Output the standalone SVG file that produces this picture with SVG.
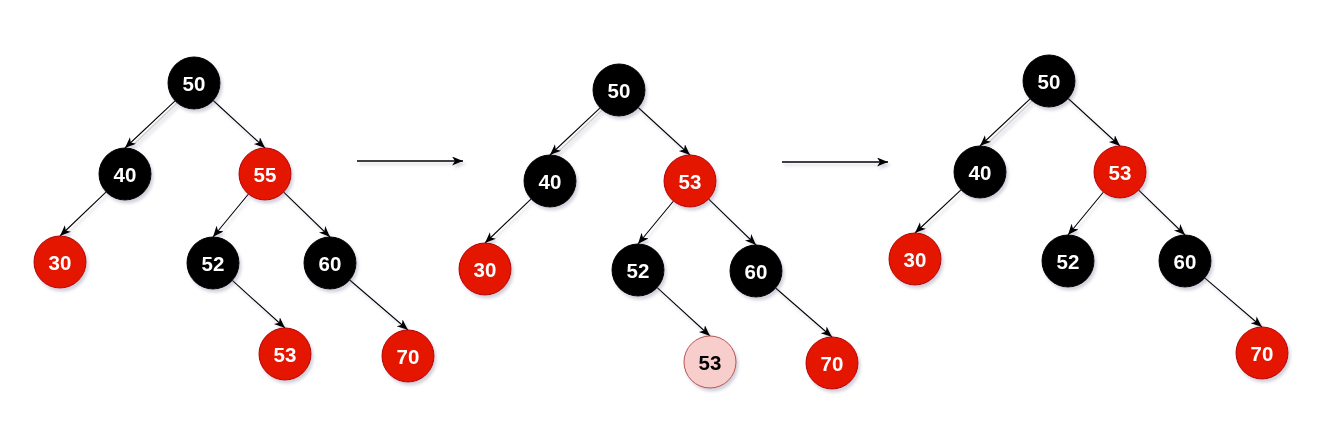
<svg xmlns="http://www.w3.org/2000/svg" width="1321" height="437" viewBox="0 0 1321 437">
<style>
.b{fill:#000000;stroke:#000000;stroke-width:1}
.r{fill:#e51400;stroke:#b20000;stroke-width:1}
.p{fill:#f8cecc;stroke:#b85450;stroke-width:1}
text{font-family:"Liberation Sans",Arial,Helvetica,sans-serif;font-weight:bold;font-size:20.5px;text-anchor:middle;fill:#ffffff}
text.k{fill:#000000}
.e{stroke:#000000;stroke-width:1.1;fill:none;marker-end:url(#ah)}
.big{stroke:#000000;stroke-width:1.4;fill:none;marker-end:url(#ah)}
.ghost{stroke:#cfcfcf;stroke-width:1.2;fill:none}
</style>
<defs>
<filter id="sh" filterUnits="userSpaceOnUse" x="0" y="0" width="1321" height="437">
<feDropShadow dx="2" dy="3" stdDeviation="1.6" flood-color="#6a6a8a" flood-opacity="0.3"/>
</filter>
<marker id="ah" markerUnits="userSpaceOnUse" markerWidth="12" markerHeight="10" refX="11" refY="4.5" orient="auto" viewBox="0 0 12 10">
<path d="M0,0 L11,4.5 L0,9 L3,4.5 Z" fill="#000000"/>
</marker>
</defs>
<rect width="1321" height="437" fill="#ffffff"/>
<g id="connectors" filter="url(#sh)">
<line class="ghost" x1="177" y1="103" x2="132" y2="146"/>
<line class="e" x1="175.1" y1="100.8" x2="125" y2="148"/>
<line class="e" x1="213.2" y1="100.5" x2="265" y2="148"/>
<line class="e" x1="106.2" y1="191.9" x2="60" y2="236"/>
<line class="e" x1="248.5" y1="194" x2="213" y2="237"/>
<line class="e" x1="283.7" y1="192.1" x2="330" y2="237"/>
<line class="e" x1="232.3" y1="280.4" x2="285" y2="328"/>
<line class="e" x1="349.7" y1="280" x2="408" y2="330"/>
<line class="big" x1="357" y1="161" x2="463" y2="161"/>
<line class="ghost" x1="602" y1="110" x2="557" y2="153"/>
<line class="e" x1="600.1" y1="107.8" x2="550" y2="155"/>
<line class="e" x1="638.2" y1="107.5" x2="690" y2="155"/>
<line class="e" x1="531.2" y1="198.9" x2="485" y2="243"/>
<line class="e" x1="673.5" y1="201" x2="638" y2="244"/>
<line class="e" x1="708.7" y1="199.1" x2="756" y2="245"/>
<line class="e" x1="657.2" y1="287.6" x2="710" y2="336"/>
<line class="e" x1="775.6" y1="288" x2="832" y2="337"/>
<line class="big" x1="782" y1="162" x2="888" y2="162"/>
<line class="ghost" x1="1032" y1="101" x2="987" y2="144"/>
<line class="e" x1="1030.1" y1="98.8" x2="980" y2="146"/>
<line class="e" x1="1068.2" y1="98.5" x2="1120" y2="146"/>
<line class="e" x1="961" y1="189.8" x2="915" y2="233"/>
<line class="e" x1="1103.5" y1="192" x2="1068" y2="235"/>
<line class="e" x1="1138.7" y1="190.1" x2="1185" y2="235"/>
<line class="e" x1="1204.7" y1="277.9" x2="1262" y2="327"/>
</g>
<g id="t1-50" filter="url(#sh)"><circle class="b" cx="194" cy="83" r="26"/><text x="194" y="90.5">50</text></g>
<g id="t1-40" filter="url(#sh)"><circle class="b" cx="125" cy="174" r="26"/><text x="125" y="181.5">40</text></g>
<g id="t1-55" filter="url(#sh)"><circle class="r" cx="265" cy="174" r="26"/><text x="265" y="181.5">55</text></g>
<g id="t1-30" filter="url(#sh)"><circle class="r" cx="60" cy="262" r="26"/><text x="60" y="269.5">30</text></g>
<g id="t1-52" filter="url(#sh)"><circle class="b" cx="213" cy="263" r="26"/><text x="213" y="270.5">52</text></g>
<g id="t1-60" filter="url(#sh)"><circle class="b" cx="330" cy="263" r="26"/><text x="330" y="270.5">60</text></g>
<g id="t1-53" filter="url(#sh)"><circle class="r" cx="285" cy="354" r="26"/><text x="285" y="361.5">53</text></g>
<g id="t1-70" filter="url(#sh)"><circle class="r" cx="408" cy="356" r="26"/><text x="408" y="363.5">70</text></g>
<g id="t2-50" filter="url(#sh)"><circle class="b" cx="619" cy="90" r="26"/><text x="619" y="97.5">50</text></g>
<g id="t2-40" filter="url(#sh)"><circle class="b" cx="550" cy="181" r="26"/><text x="550" y="188.5">40</text></g>
<g id="t2-53" filter="url(#sh)"><circle class="r" cx="690" cy="181" r="26"/><text x="690" y="188.5">53</text></g>
<g id="t2-30" filter="url(#sh)"><circle class="r" cx="485" cy="269" r="26"/><text x="485" y="276.5">30</text></g>
<g id="t2-52" filter="url(#sh)"><circle class="b" cx="638" cy="270" r="26"/><text x="638" y="277.5">52</text></g>
<g id="t2-60" filter="url(#sh)"><circle class="b" cx="756" cy="271" r="26"/><text x="756" y="278.5">60</text></g>
<g id="t2-53p" filter="url(#sh)"><circle class="p" cx="710" cy="362" r="26"/><text class="k" x="710" y="369.5">53</text></g>
<g id="t2-70" filter="url(#sh)"><circle class="r" cx="832" cy="363" r="26"/><text x="832" y="370.5">70</text></g>
<g id="t3-50" filter="url(#sh)"><circle class="b" cx="1049" cy="81" r="26"/><text x="1049" y="88.5">50</text></g>
<g id="t3-40" filter="url(#sh)"><circle class="b" cx="980" cy="172" r="26"/><text x="980" y="179.5">40</text></g>
<g id="t3-53" filter="url(#sh)"><circle class="r" cx="1120" cy="172" r="26"/><text x="1120" y="179.5">53</text></g>
<g id="t3-30" filter="url(#sh)"><circle class="r" cx="915" cy="259" r="26"/><text x="915" y="266.5">30</text></g>
<g id="t3-52" filter="url(#sh)"><circle class="b" cx="1068" cy="261" r="26"/><text x="1068" y="268.5">52</text></g>
<g id="t3-60" filter="url(#sh)"><circle class="b" cx="1185" cy="261" r="26"/><text x="1185" y="268.5">60</text></g>
<g id="t3-70" filter="url(#sh)"><circle class="r" cx="1262" cy="353" r="26"/><text x="1262" y="360.5">70</text></g>
</svg>
